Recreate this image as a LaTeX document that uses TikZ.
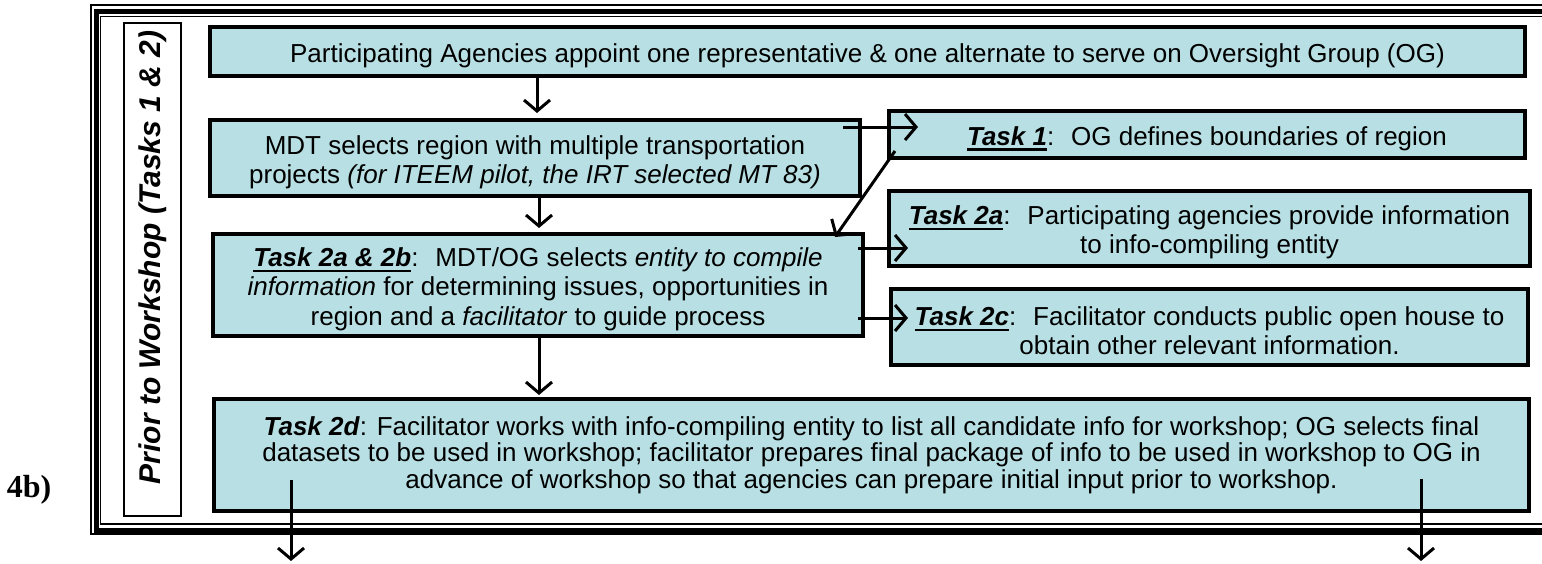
\documentclass[tikz,border=0pt]{standalone}
\usepackage{fontspec}
\setmainfont{Liberation Sans}
\newfontfamily\labelserif{Liberation Serif}
\usetikzlibrary{arrows.meta,calc}
\definecolor{boxfill}{RGB}{184,224,228}
\newsavebox{\tasklabelbox}
% bold italic task name with a heavy rule under it
\newcommand{\tasklabel}[1]{\sbox{\tasklabelbox}{\textbf{\textit{#1}}}%
  \rlap{\rule[-2.6pt]{\wd\tasklabelbox}{1.1pt}}\usebox{\tasklabelbox}}
\newcommand{\taskname}[1]{\textbf{\textit{#1}}}
% pushes a box's text block slightly below the box centre
\newcommand{\lowerby}{\rule{0pt}{13.5pt}}

\begin{document}
\begin{tikzpicture}[x=0.5pt,y=-0.5pt,
  box/.style={draw=black, line width=2pt, fill=boxfill, align=center,
    inner sep=0pt, font=\fontsize{13}{14.6}\selectfont},
  arr/.style={line width=1.5pt, -{Straight Barb[length=5.5pt,width=13pt]}},
  frameline/.style={draw=black}]
\useasboundingbox (0,0) rectangle (1542,563);
\clip (0,0) rectangle (1542,563);

% triple-line frame around the stage
\draw[frameline, line width=0.6pt] (91,5) rectangle (1600,534);
\draw[frameline, line width=2.5pt] (96,11.5) rectangle (1600,530);
\draw[frameline, line width=0.6pt] (100.5,16.5) rectangle (1600,524);

% stage caption
\node[draw=black, line width=0.8pt, fill=white, minimum width=28.5pt,
  minimum height=246.5pt, inner sep=0pt] (stage) at (152.5,269.5) {};
\node[rotate=90, font=\fontsize{15}{18}\selectfont\bfseries\itshape]
  (stagetext) at ($(stage.center)+(0,-12)$) {Prior to Workshop (Tasks 1 \& 2)};

\node[font=\fontsize{16}{18}\selectfont\labelserif\bfseries] (fig) at (29,490) {4b)};

% process boxes
\node[box, minimum width=657.5pt, minimum height=24.5pt] (b1) at (867.5,51.5)
  {\lowerby Participating Agencies appoint one representative \& one alternate to serve on Oversight Group (OG)};
\node[box, minimum width=325pt, minimum height=38pt] (b2) at (535,158)
  {\lowerby MDT selects region with multiple transportation\\
   projects \textit{(for ITEEM pilot, the IRT selected MT 83)}};
\node[box, minimum width=325pt, minimum height=51pt] (b3) at (538,285)
  {\lowerby\tasklabel{Task 2a \& 2b}: \ MDT/OG selects \textit{entity to compile}\\
   \textit{information} for determining issues, opportunities in\\
   region and a \textit{facilitator} to guide process};
\node[box, minimum width=318pt, minimum height=23.5pt] (t1) at (1207,134.5)
  {\lowerby\tasklabel{Task 1}: \ OG defines boundaries of region};
\node[box, minimum width=320.5pt, minimum height=37.5pt] (t2a) at (1209.5,228.5)
  {\lowerby\tasklabel{Task 2a}: \ Participating agencies provide information\\
   to info-compiling entity};
\node[box, minimum width=318.5pt, minimum height=38pt] (t2c) at (1209.5,327)
  {\lowerby\tasklabel{Task 2c}: \ Facilitator conducts public open house to\\
   obtain other relevant information.};
\node[box, minimum width=657.5pt, minimum height=56pt,
  font=\fontsize{13}{13.2}\selectfont] (b4) at (871.5,455)
  {\taskname{Task 2d}: Facilitator works with info-compiling entity to list all candidate info for workshop; OG selects final\\
   datasets to be used in workshop; facilitator prepares final package of info to be used in workshop to OG in\\
   advance of workshop so that agencies can prepare initial input prior to workshop.};

% outgoing ends below the stage
\coordinate (outL) at (291,561);
\coordinate (outR) at (1421,561);

% connectors
\draw[arr] ($(b1.south west)+(329,0)$) -- ($(b2.north west)+(329,-5)$);
\draw[arr] ($(b2.south west)+(331,0)$) -- ($(b3.north west)+(328,-4)$);
\draw[arr] ($(b3.south west)+(328,0)$) -- ($(b4.north west)+(327,-2)$);
\draw[arr] ($(b2.north east)+(-19,9)$) -- ($(t1.north west)+(31,18)$);
\draw[arr] ($(t1.south west)+(8,-9)$) -- ($(b3.north east)+(-30,5)$);
\draw[arr] ($(b3.north east)+(-7,16)$) -- ($(t2a.north west)+(21,59)$);
\draw[arr] ($(b3.south east)+(-7,-20)$) -- ($(t2c.north west)+(19,31)$);
\draw[arr] ($(b4.south west)+(79,-33)$) -- (outL);
\draw[arr] ($(b4.south east)+(-110,-34)$) -- (outR);
\end{tikzpicture}
\end{document}
